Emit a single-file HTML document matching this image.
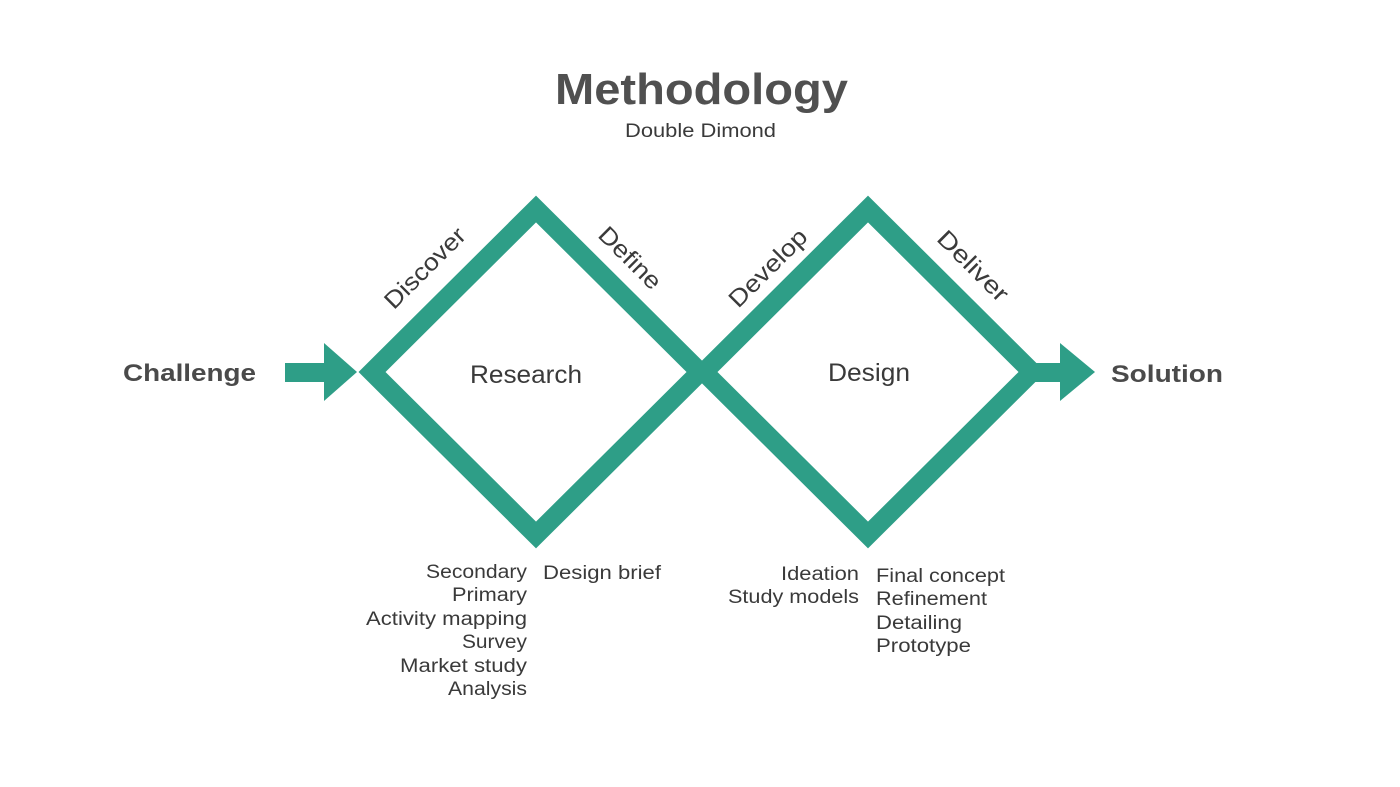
<!DOCTYPE html>
<html><head><meta charset="utf-8"><style>
html,body{margin:0;padding:0;background:#fff}
svg{display:block}
text{font-family:"Liberation Sans",sans-serif;fill:#3a3a3a}
</style></head><body>
<svg width="1400" height="787" viewBox="0 0 1400 787" xmlns="http://www.w3.org/2000/svg">
<g fill="none" stroke="#2e9e87" stroke-width="19" stroke-linejoin="miter" stroke-miterlimit="10">
<polygon points="372,372 536,209 700,372 536,535"/>
<polygon points="704,372 868,209 1032,372 868,535"/>
</g>
<g fill="#2e9e87">
<rect x="285" y="363" width="42" height="19"/>
<polygon points="324,343 357,372 324,401"/>
<rect x="1028" y="363" width="34" height="19"/>
<polygon points="1060,343 1095,372 1060,401"/>
</g>
<g>
<text x="555" y="104" textLength="293" lengthAdjust="spacingAndGlyphs" font-size="44" font-weight="bold" style="fill:#505050">Methodology</text>
<text x="625" y="137" textLength="151" lengthAdjust="spacingAndGlyphs" font-size="19">Double Dimond</text>
<text x="123" y="381" textLength="133" lengthAdjust="spacingAndGlyphs" font-size="24" font-weight="bold" style="fill:#4a4a4a">Challenge</text>
<text x="1111" y="382" textLength="112" lengthAdjust="spacingAndGlyphs" font-size="24" font-weight="bold" style="fill:#4a4a4a">Solution</text>
<text x="470" y="383" textLength="112" lengthAdjust="spacingAndGlyphs" font-size="25">Research</text>
<text x="828" y="381" textLength="82" lengthAdjust="spacingAndGlyphs" font-size="25">Design</text>
<text transform="translate(425,268) rotate(-45)" x="-52" dy="8" textLength="104" lengthAdjust="spacingAndGlyphs" font-size="24">Discover</text>
<text transform="translate(630,258) rotate(45)" x="-39" dy="8" textLength="78" lengthAdjust="spacingAndGlyphs" font-size="24">Define</text>
<text transform="translate(768,268) rotate(-45)" x="-50" dy="8" textLength="100" lengthAdjust="spacingAndGlyphs" font-size="24">Develop</text>
<text transform="translate(973,266) rotate(45)" x="-45" dy="8" textLength="90" lengthAdjust="spacingAndGlyphs" font-size="24">Deliver</text>
</g>
<g font-size="19">
<text x="426" y="578" textLength="101" lengthAdjust="spacingAndGlyphs">Secondary</text>
<text x="452" y="601" textLength="75" lengthAdjust="spacingAndGlyphs">Primary</text>
<text x="366" y="625" textLength="161" lengthAdjust="spacingAndGlyphs">Activity mapping</text>
<text x="462" y="648" textLength="65" lengthAdjust="spacingAndGlyphs">Survey</text>
<text x="400" y="672" textLength="127" lengthAdjust="spacingAndGlyphs">Market study</text>
<text x="448" y="695" textLength="79" lengthAdjust="spacingAndGlyphs">Analysis</text>
<text x="781" y="580" textLength="78" lengthAdjust="spacingAndGlyphs">Ideation</text>
<text x="728" y="603" textLength="131" lengthAdjust="spacingAndGlyphs">Study models</text>
<text x="543" y="579" textLength="118" lengthAdjust="spacingAndGlyphs">Design brief</text>
<text x="876" y="582" textLength="129" lengthAdjust="spacingAndGlyphs">Final concept</text>
<text x="876" y="605" textLength="111" lengthAdjust="spacingAndGlyphs">Refinement</text>
<text x="876" y="629" textLength="86" lengthAdjust="spacingAndGlyphs">Detailing</text>
<text x="876" y="652" textLength="95" lengthAdjust="spacingAndGlyphs">Prototype</text>
</g>
</svg>
</body></html>
